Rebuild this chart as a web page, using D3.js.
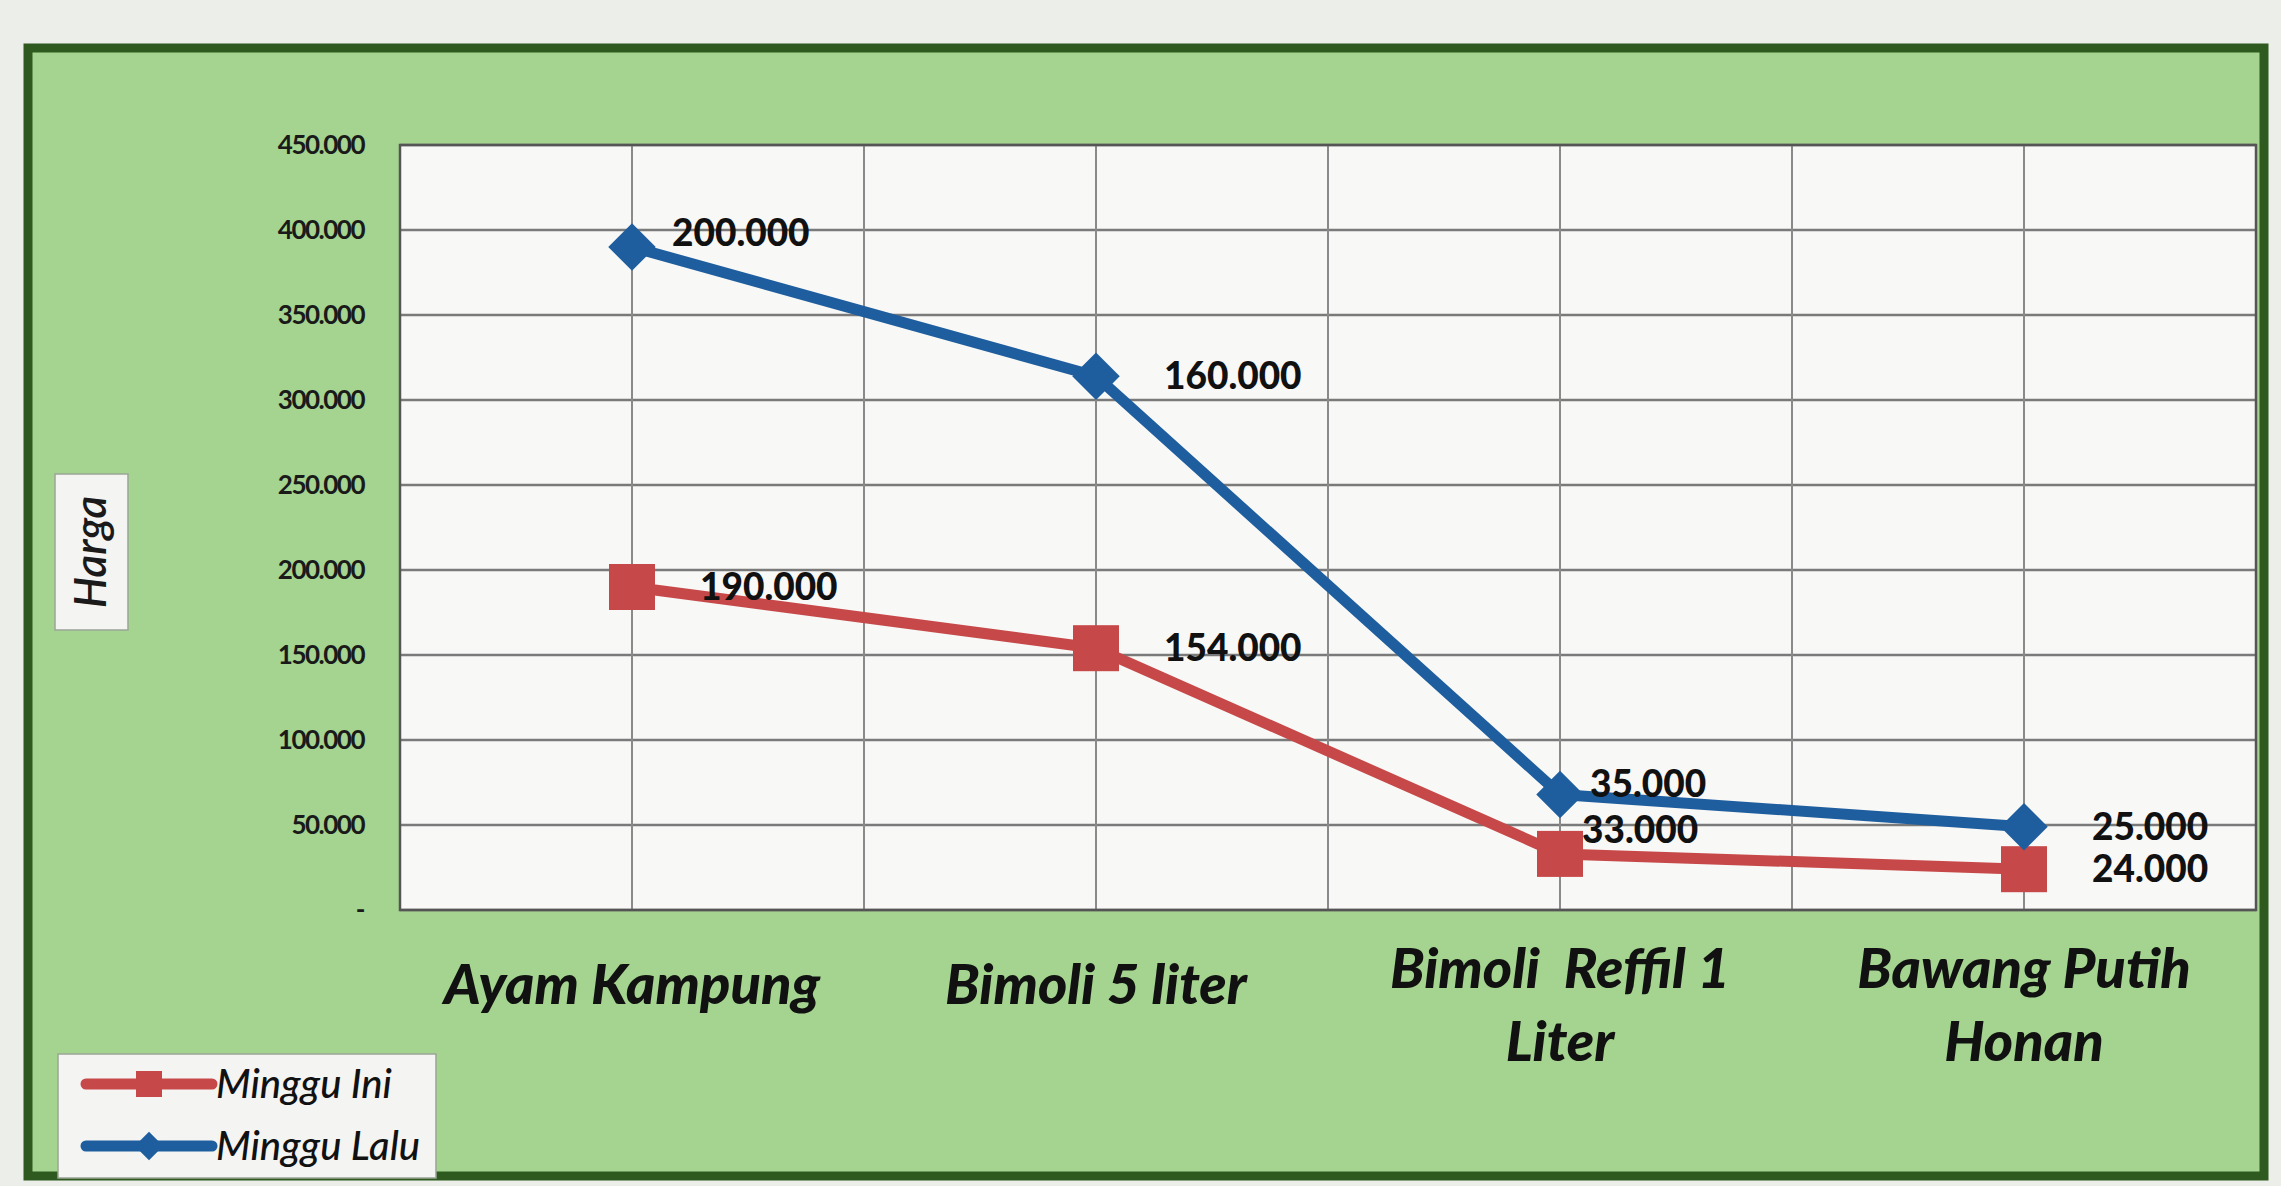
<!DOCTYPE html>
<html>
<head>
<meta charset="utf-8">
<script src="https://cdn.jsdelivr.net/npm/d3@7"></script>
<style>
  body { margin: 0; background: #eceeea; }
  svg { display: block; font-family: Lato, "Open Sans", sans-serif; }
</style>
</head>
<body>
<svg id="chart" width="2281" height="1186"></svg>
<script>
// Chart data
const categories = ["Ayam Kampung", "Bimoli 5 liter", "Bimoli  Reffil 1 Liter", "Bawang Putih Honan"];
const categoryLines = [["Ayam Kampung"], ["Bimoli 5 liter"], ["Bimoli  Reffil 1", "Liter"], ["Bawang Putih", "Honan"]];
const mingguIni = [190000, 154000, 33000, 24000];
const mingguLalu = [200000, 160000, 35000, 25000];
const yTicks = [0, 50000, 100000, 150000, 200000, 250000, 300000, 350000, 400000, 450000];

// label nudges (dx, dy) per series and point, like the hand-moved labels in excel
const nudgeIni = [[68, 0], [68, 0], [22, -24], [68, 0]];
const nudgeLalu = [[40, -14], [68, 0], [30, -10], [68, 0]];

const idLocale = d3.formatLocale({ decimal: ",", thousands: ".", grouping: [3], currency: ["Rp", ""] });
const fmt = idLocale.format(",.0f");

const svg = d3.select("#chart");

// outer chart frame
svg.append("rect")
  .attr("x", 28).attr("y", 48)
  .attr("width", 2236).attr("height", 1128)
  .attr("fill", "#a4d48f")
  .attr("stroke", "#2f5a1f")
  .attr("stroke-width", 9);

const plot = { left: 400, right: 2256, top: 145, bottom: 910 };

const x = d3.scaleBand().domain(categories).range([plot.left, plot.right]);
const y = d3.scaleLinear().domain([0, 450000]).range([plot.bottom, plot.top]);

// plot area
svg.append("rect")
  .attr("x", plot.left).attr("y", plot.top)
  .attr("width", plot.right - plot.left).attr("height", plot.bottom - plot.top)
  .attr("fill", "#f8f8f6");

// horizontal gridlines
svg.append("g")
  .selectAll("line")
  .data(yTicks)
  .join("line")
  .attr("x1", plot.left).attr("x2", plot.right)
  .attr("y1", d => y(d)).attr("y2", d => y(d))
  .attr("stroke", "#7a7a7a")
  .attr("stroke-width", 2.5);

// vertical gridlines at band edges and centres
const vLines = [];
categories.forEach(c => { vLines.push(x(c)); vLines.push(x(c) + x.bandwidth() / 2); });
vLines.push(plot.right);
svg.append("g")
  .selectAll("line")
  .data(vLines)
  .join("line")
  .attr("x1", d => d).attr("x2", d => d)
  .attr("y1", plot.top).attr("y2", plot.bottom)
  .attr("stroke", "#8a8a8a")
  .attr("stroke-width", 2);

svg.append("rect")
  .attr("x", plot.left).attr("y", plot.top)
  .attr("width", plot.right - plot.left).attr("height", plot.bottom - plot.top)
  .attr("fill", "none")
  .attr("stroke", "#555")
  .attr("stroke-width", 2.5);

// y axis labels
svg.append("g")
  .selectAll("text")
  .data(yTicks)
  .join("text")
  .attr("x", 364)
  .attr("y", d => y(d))
  .attr("dy", "0.35em")
  .attr("text-anchor", "end")
  .style("font-size", "26px")
  .style("font-weight", "bold")
  .style("letter-spacing", "-1.5px")
  .style("fill", "#1a1a1a")
  .text(d => d === 0 ? "-" : fmt(d));

// y axis title
svg.append("rect")
  .attr("x", 55).attr("y", 474)
  .attr("width", 73).attr("height", 156)
  .attr("fill", "#f4f4f2")
  .attr("stroke", "#9aa596")
  .attr("stroke-width", 1.5);
svg.append("text")
  .attr("transform", "translate(106,552) rotate(-90)")
  .attr("text-anchor", "middle")
  .style("font-size", "44px")
  .style("font-style", "italic")
  .style("font-weight", "600")
  .style("fill", "#1a1a1a")
  .text("Harga");

// category labels
categoryLines.forEach((lines, i) => {
  const cx = x(categories[i]) + x.bandwidth() / 2;
  const t = svg.append("text")
    .attr("text-anchor", "middle")
    .style("font-size", "56px")
    .style("font-weight", "900")
    .style("font-style", "italic")
    .style("white-space", "pre")
    .style("fill", "#111");
  lines.forEach((ln, j) => {
    t.append("tspan")
      .attr("x", cx)
      .attr("y", (lines.length === 1 ? 1004 : 988) + j * 73)
      .text(ln);
  });
});

// stacked line chart: Minggu Lalu is drawn on top of Minggu Ini
const stackedLalu = mingguLalu.map((v, i) => v + mingguIni[i]);

const series = [
  { name: "Minggu Ini", values: mingguIni, plotted: mingguIni, color: "#c64848", marker: "square", nudge: nudgeIni },
  { name: "Minggu Lalu", values: mingguLalu, plotted: stackedLalu, color: "#1f5e9e", marker: "diamond", nudge: nudgeLalu }
];

const line = d3.line()
  .x((d, i) => x(categories[i]) + x.bandwidth() / 2)
  .y(d => y(d));

function drawMarker(g, type, color, size) {
  if (type === "square") {
    g.append("rect")
      .attr("x", -size / 2).attr("y", -size / 2)
      .attr("width", size).attr("height", size)
      .attr("fill", color);
  } else {
    g.append("path")
      .attr("d", d3.symbol().type(d3.symbolDiamond2).size(size * size * 0.9)())
      .attr("fill", color);
  }
}

series.forEach(s => {
  svg.append("path")
    .datum(s.plotted)
    .attr("d", line)
    .attr("fill", "none")
    .attr("stroke", s.color)
    .attr("stroke-width", 11)
    .attr("stroke-linejoin", "round");

  s.plotted.forEach((v, i) => {
    const g = svg.append("g")
      .attr("transform", `translate(${x(categories[i]) + x.bandwidth() / 2},${y(v)})`);
    drawMarker(g, s.marker, s.color, s.marker === "square" ? 46 : 40);
  });
});

// data labels
series.forEach(s => {
  s.plotted.forEach((v, i) => {
    svg.append("text")
      .attr("x", x(categories[i]) + x.bandwidth() / 2 + s.nudge[i][0])
      .attr("y", y(v) + s.nudge[i][1])
      .attr("dy", "0.35em")
      .style("font-size", "37px")
      .style("font-weight", "900")
      .style("fill", "#111")
      .text(fmt(s.values[i]));
  });
});

// legend
const legend = svg.append("g");
legend.append("rect")
  .attr("x", 58).attr("y", 1054)
  .attr("width", 378).attr("height", 124)
  .attr("fill", "#f4f4f2")
  .attr("stroke", "#9aa596")
  .attr("stroke-width", 1.5);
series.forEach((s, i) => {
  const ly = 1084 + i * 62;
  legend.append("line")
    .attr("x1", 86).attr("x2", 212)
    .attr("y1", ly).attr("y2", ly)
    .attr("stroke", s.color)
    .attr("stroke-width", 11)
    .attr("stroke-linecap", "round");
  const g = legend.append("g").attr("transform", `translate(149,${ly})`);
  drawMarker(g, s.marker, s.color, s.marker === "square" ? 26 : 24);
  legend.append("text")
    .attr("x", 216).attr("y", ly)
    .attr("dy", "0.35em")
    .style("font-size", "40px")
    .style("font-style", "italic")
    .style("font-weight", "500")
    .style("fill", "#111")
    .text(s.name);
});
</script>
</body>
</html>
